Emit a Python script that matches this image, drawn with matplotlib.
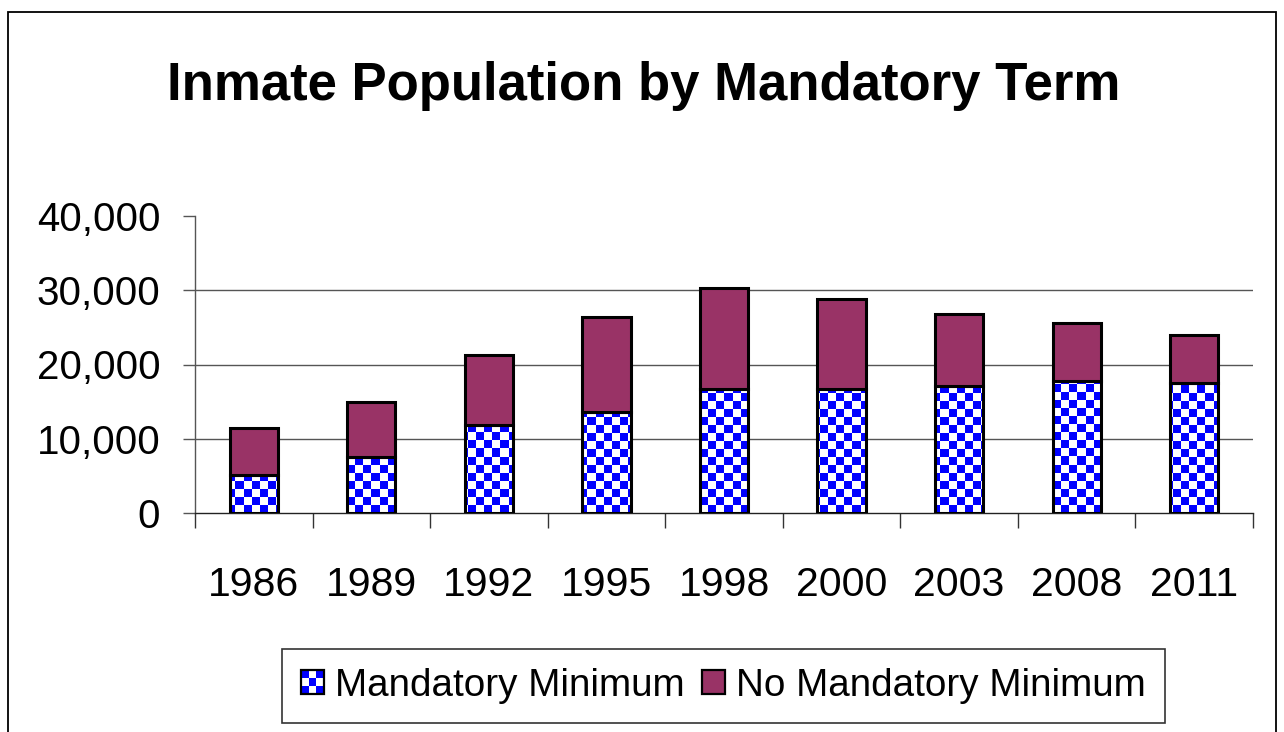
import numpy as np
import matplotlib
matplotlib.use("Agg")
import matplotlib.pyplot as plt
from matplotlib.patches import Rectangle
from matplotlib.legend_handler import HandlerBase

# Inmate counts by year, split by sentence type
years = ["1986", "1989", "1992", "1995", "1998", "2000", "2003", "2008", "2011"]
mandatory_min = [5100, 7500, 11800, 13600, 16700, 16700, 17100, 17800, 17500]
no_mandatory_min = [6350, 7450, 9450, 12800, 13600, 12100, 9700, 7800, 6500]
y_ticks = [0, 10000, 20000, 30000, 40000]
y_tick_labels = ["0", "10,000", "20,000", "30,000", "40,000"]

plt.rcParams["font.family"] = ["Liberation Sans", "DejaVu Sans"]

BLUE = "#0000FF"
MAROON = "#993366"

W, H, DPI = 1284, 732, 100
fig = plt.figure(figsize=(W / DPI, H / DPI), dpi=DPI)
fig.patch.set_facecolor("white")

# outer frame of the chart area
fig.patches.append(Rectangle((8 / W, -0.02), (1276 - 8) / W, 1 - 12 / H + 0.02,
                             transform=fig.transFigure, fill=False,
                             edgecolor="black", linewidth=1.3, zorder=0))

ax = fig.add_axes([195 / W, (H - 513) / H, (1253 - 195) / W, (513 - 216) / H])

x = np.arange(len(years))
bar_w = 0.41

# checkerboard fill for the mandatory-minimum segments (8 px cells)
cell = 8.0
ncols = int(round((1253 - 195) / cell))
nrows = int(round((513 - 216) / cell))
checker = (np.add.outer(np.arange(nrows), np.arange(ncols)) % 2)
checker_rgb = np.ones((nrows, ncols, 3))
checker_rgb[checker == 0] = [0, 0, 1]

bars_low = ax.bar(x, mandatory_min, width=bar_w, facecolor="none",
                  edgecolor="black", linewidth=2.2, zorder=4)
for b in bars_low:
    im = ax.imshow(checker_rgb, extent=(0, 1, 0, 1), transform=ax.transAxes,
                   aspect="auto", interpolation="nearest", zorder=3)
    im.set_clip_path(b)

bars_high = ax.bar(x, no_mandatory_min, bottom=mandatory_min, width=bar_w,
                   facecolor=MAROON, edgecolor="black", linewidth=2.2, zorder=4)

ax.set_xlim(-0.5, len(years) - 0.5)
ax.set_ylim(0, 40000)

# horizontal gridlines (none at the top value)
for v in y_ticks[1:-1]:
    ax.axhline(v, color="#555555", linewidth=1.0, zorder=1)

for s in ["top", "right"]:
    ax.spines[s].set_visible(False)
ax.spines["left"].set_color("#555555")
ax.spines["bottom"].set_color("#222222")
ax.spines["left"].set_linewidth(1.0)
ax.spines["bottom"].set_linewidth(1.0)

ax.set_yticks(y_ticks)
ax.set_yticklabels(y_tick_labels)
ax.tick_params(axis="y", direction="out", length=8.5, width=1.0, color="#555555",
               pad=16.5, labelsize=29)

# year labels centred under bars, tick marks between categories
ax.set_xticks(x)
ax.set_xticklabels(years)
ax.tick_params(axis="x", which="major", length=0, pad=38.5, labelsize=29.5)
ax.set_xticks(np.arange(len(years) + 1) - 0.5, minor=True)
ax.tick_params(axis="x", which="minor", direction="out", length=10.5, width=1.0,
               color="#333333")

fig.text(0.501, 1 - 100 / H, "Inmate Population by Mandatory Term",
         ha="center", va="baseline", fontsize=38, fontweight="bold")


class CheckerHandler(HandlerBase):
    def create_artists(self, legend, orig_handle, xdescent, ydescent,
                       width, height, fontsize, trans):
        artists = []
        n = 3
        cw, ch = width / n, height / n
        for i in range(n):
            for j in range(n):
                c = BLUE if (i + j) % 2 == 0 else "white"
                artists.append(Rectangle((-xdescent + i * cw, -ydescent + j * ch),
                                         cw, ch, facecolor=c, edgecolor="none",
                                         transform=trans))
        artists.append(Rectangle((-xdescent, -ydescent), width, height,
                                 facecolor="none", edgecolor="black",
                                 linewidth=1.6, transform=trans))
        return artists


h_checker = Rectangle((0, 0), 1, 1)
h_maroon = Rectangle((0, 0), 1, 1, facecolor=MAROON, edgecolor="black",
                     linewidth=1.6)
leg = fig.legend([h_checker, h_maroon],
                 ["Mandatory Minimum", "No Mandatory Minimum"],
                 handler_map={h_checker: CheckerHandler()},
                 loc="center", bbox_to_anchor=(723.5 / W, 1 - 686 / H),
                 ncol=2, fontsize=27.8, frameon=True, fancybox=False,
                 handlelength=0.58, handleheight=0.58, handletextpad=0.3,
                 columnspacing=0.45, borderpad=0.5, borderaxespad=0)
leg.get_frame().set_edgecolor("black")
leg.get_frame().set_linewidth(1.2)

fig.savefig("out.png", dpi=DPI, facecolor="white")
